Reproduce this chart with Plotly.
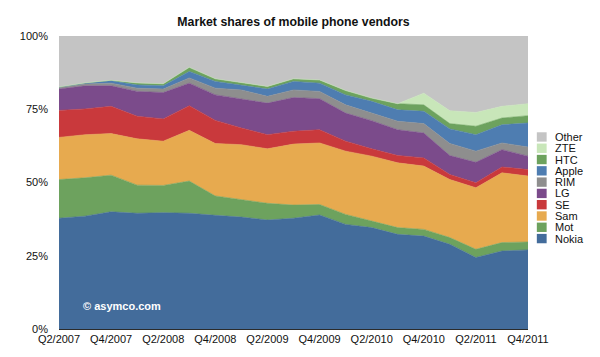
import plotly.graph_objects as go

quarters = ["Q2/2007", "Q3/2007", "Q4/2007", "Q1/2008", "Q2/2008", "Q3/2008", "Q4/2008",
            "Q1/2009", "Q2/2009", "Q3/2009", "Q4/2009", "Q1/2010", "Q2/2010", "Q3/2010",
            "Q4/2010", "Q1/2011", "Q2/2011", "Q3/2011", "Q4/2011"]
tick_labels = quarters[::2]

nokia = [37.8, 38.5, 40.0, 39.5, 39.7, 39.5, 38.8, 38.2, 37.2, 37.8, 38.9, 35.7, 34.6, 32.3, 31.7, 28.9, 24.4, 26.6, 27.0]
mot = [13.2, 13.1, 12.5, 9.6, 9.3, 11.0, 6.6, 6.0, 5.7, 4.5, 3.6, 3.4, 2.3, 2.3, 2.3, 2.3, 2.8, 2.9, 2.7]
sam = [14.4, 14.7, 14.2, 15.8, 15.1, 17.3, 17.9, 18.7, 18.6, 20.8, 21.0, 21.6, 22.1, 22.1, 21.6, 19.8, 21.0, 23.8, 22.5]
se = [9.2, 8.8, 9.3, 7.7, 7.6, 8.4, 7.9, 5.7, 4.8, 4.4, 4.5, 3.4, 2.5, 2.5, 2.8, 1.7, 1.7, 2.0, 2.2]
lg = [7.3, 7.9, 7.0, 8.5, 9.0, 7.7, 8.7, 9.9, 10.8, 11.5, 10.6, 9.6, 9.6, 8.8, 8.5, 6.5, 7.0, 5.9, 4.6]
rim = [0.5, 0.6, 0.9, 1.1, 1.2, 1.8, 2.3, 3.1, 2.3, 2.6, 2.5, 2.8, 2.6, 2.9, 3.2, 4.1, 3.8, 2.3, 3.1]
apple = [0.2, 0.4, 0.8, 1.1, 1.1, 2.2, 2.3, 1.7, 2.5, 2.9, 2.8, 3.4, 4.0, 3.9, 4.2, 5.0, 5.6, 6.2, 8.2]
htc = [0.0, 0.0, 0.2, 0.7, 0.7, 1.4, 0.9, 0.9, 0.9, 0.9, 1.1, 1.5, 1.1, 2.1, 2.2, 1.8, 2.9, 2.3, 2.5]
zte = [0, 0, 0, 0, 0, 0, 0, 0, 0, 0, 0, 0, 0, 0, 4.0, 4.4, 4.7, 4.0, 4.1]
other = [17.4, 16.0, 15.1, 16.0, 16.3, 10.7, 14.6, 15.8, 17.2, 14.6, 15.0, 18.6, 21.2, 23.1, 19.5, 25.5, 26.1, 24.0, 23.1]

series_names = ["Nokia", "Mot", "Sam", "SE", "LG", "RIM", "Apple", "HTC", "ZTE", "Other"]
series_values = [nokia, mot, sam, se, lg, rim, apple, htc, zte, other]
series_colors = ["#436C9B", "#6DA25E", "#E7AA4F", "#C9393C", "#7B4B8B",
                 "#8E8E8E", "#4E7DB1", "#6DA25E", "#C8E6B9", "#C4C4C4"]

FONT = "Liberation Sans, Arial, Helvetica, sans-serif"

fig = go.Figure()
for name, vals, col in zip(series_names, series_values, series_colors):
    fig.add_trace(go.Scatter(
        x=quarters, y=vals, name=name, mode="lines",
        stackgroup="one", line=dict(width=0.6, color=col),
        fillcolor=col, showlegend=False, hoverinfo="x+y+name"))

# The page body has an 8px default margin; the figure is sized to fit inside it.
OFF = 8
W, H = 600 - OFF, 357 - OFF
# plot area in page pixels: x 50..528, y 36..330
L, T = 50 - OFF, 36 - OFF
R, B = W - (528 - OFF), H - (330 - OFF)
pw, ph = W - L - R, H - T - B


def px_to_paper(x, y):
    """page pixel -> paper coords"""
    return (x - OFF - L) / pw, (H - B - (y - OFF)) / ph


shapes = []
annotations = []
row0, step = 137.3, 11.33
for k, (name, col) in enumerate(zip(series_names[::-1], series_colors[::-1])):
    cy = row0 + step * k
    x0, y0 = px_to_paper(537, cy + 4.7)
    x1, y1 = px_to_paper(547, cy - 4.7)
    shapes.append(dict(type="rect", xref="paper", yref="paper", x0=x0, x1=x1, y0=y0, y1=y1,
                       fillcolor=col, line=dict(width=0)))
    tx, ty = px_to_paper(553, cy)
    annotations.append(dict(xref="paper", yref="paper", x=tx, y=ty, text=name, showarrow=False,
                            xanchor="left", yanchor="middle",
                            font=dict(family=FONT, size=11, color="#111111")))

wx, wy = px_to_paper(72, 307)
annotations.append(dict(xref="paper", yref="paper", x=wx, y=wy, text="© asymco.com", showarrow=False,
                        xanchor="left", yanchor="middle",
                        font=dict(family=FONT, size=11, color="white", weight="bold")))

fig.update_layout(
    width=W, height=H,
    margin=dict(l=L, r=R, t=T, b=B),
    paper_bgcolor="white", plot_bgcolor="white",
    title=dict(text="Market shares of mobile phone vendors", x=0.5, xref="paper",
               y=1 - (22 - OFF) / H, yanchor="middle", xanchor="center",
               font=dict(family=FONT, size=12.3, color="#111111", weight="bold")),
    font=dict(family=FONT, size=11, color="#111111"),
    shapes=shapes, annotations=annotations,
    xaxis=dict(type="category", range=[0, len(quarters) - 1], tickmode="array",
               tickvals=tick_labels, ticktext=tick_labels, showgrid=False, zeroline=False,
               showline=True, linecolor="#2b2b2b", linewidth=1, ticks="", tickangle=0,
               ticklabelstandoff=0, tickfont=dict(family=FONT, size=11, color="#111111")),
    yaxis=dict(range=[0, 100], tickmode="array", tickvals=[0, 25, 50, 75, 100],
               ticktext=["0%", "25%", "50%", "75%", "100%"], showgrid=False, zeroline=False,
               showline=False, ticks="", ticklabelstandoff=10,
               tickfont=dict(family=FONT, size=11, color="#111111")),
    hovermode="x unified",
)

fig.write_html("out.html")
